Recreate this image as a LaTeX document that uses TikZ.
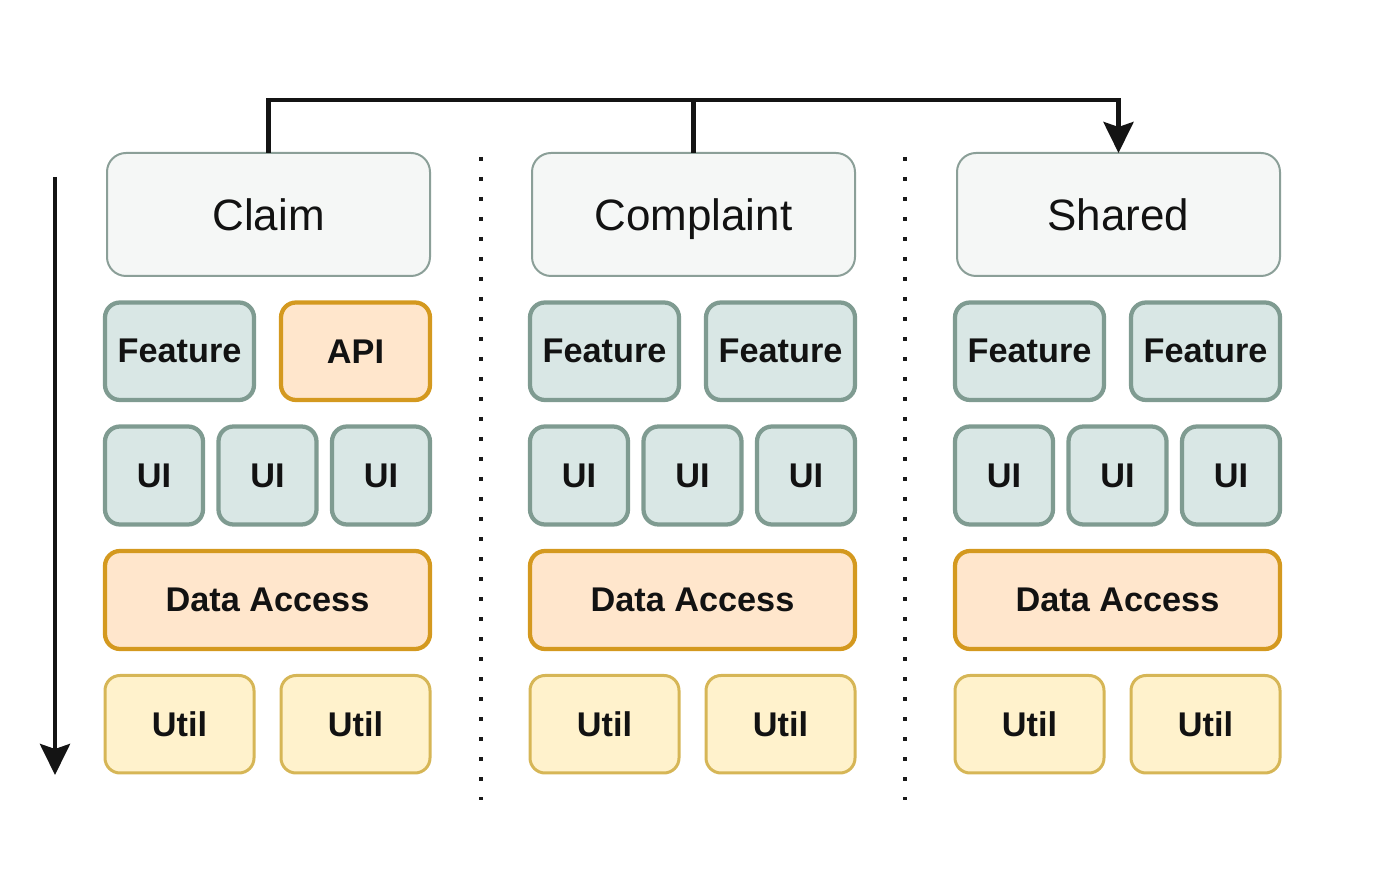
\documentclass[tikz,border=0pt]{standalone}
\usepackage{fontspec}
\setmainfont{Liberation Sans}
\usepackage{xcolor}
\usetikzlibrary{positioning,arrows.meta}

\definecolor{modfill}{HTML}{F5F7F6}
\definecolor{modline}{HTML}{8B9F98}
\definecolor{featfill}{HTML}{D9E7E5}
\definecolor{featline}{HTML}{7F9B91}
\definecolor{apifill}{HTML}{FFE6CC}
\definecolor{apiline}{HTML}{D4991F}
\definecolor{utilfill}{HTML}{FFF2CC}
\definecolor{utilline}{HTML}{D6B656}

\begin{document}
\begin{tikzpicture}[node distance=0.53cm and 0.54cm,
	box/.style={rectangle,outer sep=0pt,inner sep=2pt,text=black!93,
		font=\fontsize{19.5}{23}\selectfont\bfseries,rounded corners=0.3cm,line width=0.085cm},
	module/.style={box,draw=modline,fill=modfill,line width=0.04cm,rounded corners=0.38cm,
		text height=18pt,text depth=0pt,
		minimum width=6.46cm,minimum height=2.46cm,font=\fontsize{25}{30}\selectfont},
	feature/.style={box,draw=featline,fill=featfill,minimum width=2.98cm,minimum height=1.95cm},
	api/.style={box,draw=apiline,fill=apifill,minimum width=2.98cm,minimum height=1.95cm},
	ui/.style={box,draw=featline,fill=featfill,minimum width=1.96cm,minimum height=1.96cm},
	access/.style={box,draw=apiline,fill=apifill,minimum width=6.5cm,minimum height=1.96cm},
	util/.style={box,draw=utilline,fill=utilfill,line width=0.06cm,minimum width=2.98cm,minimum height=1.95cm},
	link/.style={line width=0.09cm,black!92},
	tip/.style={-{Stealth[length=0.62cm,width=0.6cm,inset=0.1cm]}},
	sep/.style={line width=0.08cm,black!90,dash pattern=on 0.08cm off 0.32cm}]
	\useasboundingbox (0,0) rectangle (27.54,17.44);

	% Claim
	\node[module] (claim) at (5.37,13.15) {Claim};
	\node[feature, below=of claim.south west, anchor=north west, xshift=-0.04cm] (claimfeat) {Feature};
	\node[api, right=of claimfeat] (claimapi) {API};
	\node[ui, below=of claimfeat.south west, anchor=north west] (claimui1) {UI};
	\node[ui, right=0.31cm of claimui1] (claimui2) {UI};
	\node[ui, right=0.31cm of claimui2] (claimui3) {UI};
	\node[access, below=of claimui1.south west, anchor=north west] (claimdata) {Data Access};
	\node[util, below=of claimdata.south west, anchor=north west] (claimutil1) {Util};
	\node[util, right=of claimutil1] (claimutil2) {Util};

	% Complaint
	\node[module] (complaint) at (13.87,13.15) {Complaint};
	\node[feature, below=of complaint.south west, anchor=north west, xshift=-0.04cm] (complfeat1) {Feature};
	\node[feature, right=of complfeat1] (complfeat2) {Feature};
	\node[ui, below=of complfeat1.south west, anchor=north west] (complui1) {UI};
	\node[ui, right=0.31cm of complui1] (complui2) {UI};
	\node[ui, right=0.31cm of complui2] (complui3) {UI};
	\node[access, below=of complui1.south west, anchor=north west] (compldata) {Data Access};
	\node[util, below=of compldata.south west, anchor=north west] (complutil1) {Util};
	\node[util, right=of complutil1] (complutil2) {Util};

	% Shared
	\node[module] (shared) at (22.37,13.15) {Shared};
	\node[feature, below=of shared.south west, anchor=north west, xshift=-0.04cm] (sharedfeat1) {Feature};
	\node[feature, right=of sharedfeat1] (sharedfeat2) {Feature};
	\node[ui, below=of sharedfeat1.south west, anchor=north west] (sharedui1) {UI};
	\node[ui, right=0.31cm of sharedui1] (sharedui2) {UI};
	\node[ui, right=0.31cm of sharedui2] (sharedui3) {UI};
	\node[access, below=of sharedui1.south west, anchor=north west] (shareddata) {Data Access};
	\node[util, below=of shareddata.south west, anchor=north west] (sharedutil1) {Util};
	\node[util, right=of sharedutil1] (sharedutil2) {Util};

	% dependencies
	\coordinate (bus) at (0,15.44);
	\draw[link,tip] (claim.north) -- (claim.north |- bus) -- (shared.north |- bus) -- (shared.north);
	\draw[link] (complaint.north) -- (complaint.north |- bus);

	% layer direction
	\coordinate (dirtop) at (1.1,13.9);
	\coordinate (dirbot) at (1.1,1.94);
	\draw[link,tip] (dirtop) -- (dirbot);

	% separators
	\coordinate (sepa1) at (9.62,14.3);
	\coordinate (sepa2) at (9.62,1.44);
	\coordinate (sepb1) at (18.1,14.3);
	\coordinate (sepb2) at (18.1,1.44);
	\draw[sep] (sepa1) -- (sepa2);
	\draw[sep] (sepb1) -- (sepb2);
\end{tikzpicture}
\end{document}
